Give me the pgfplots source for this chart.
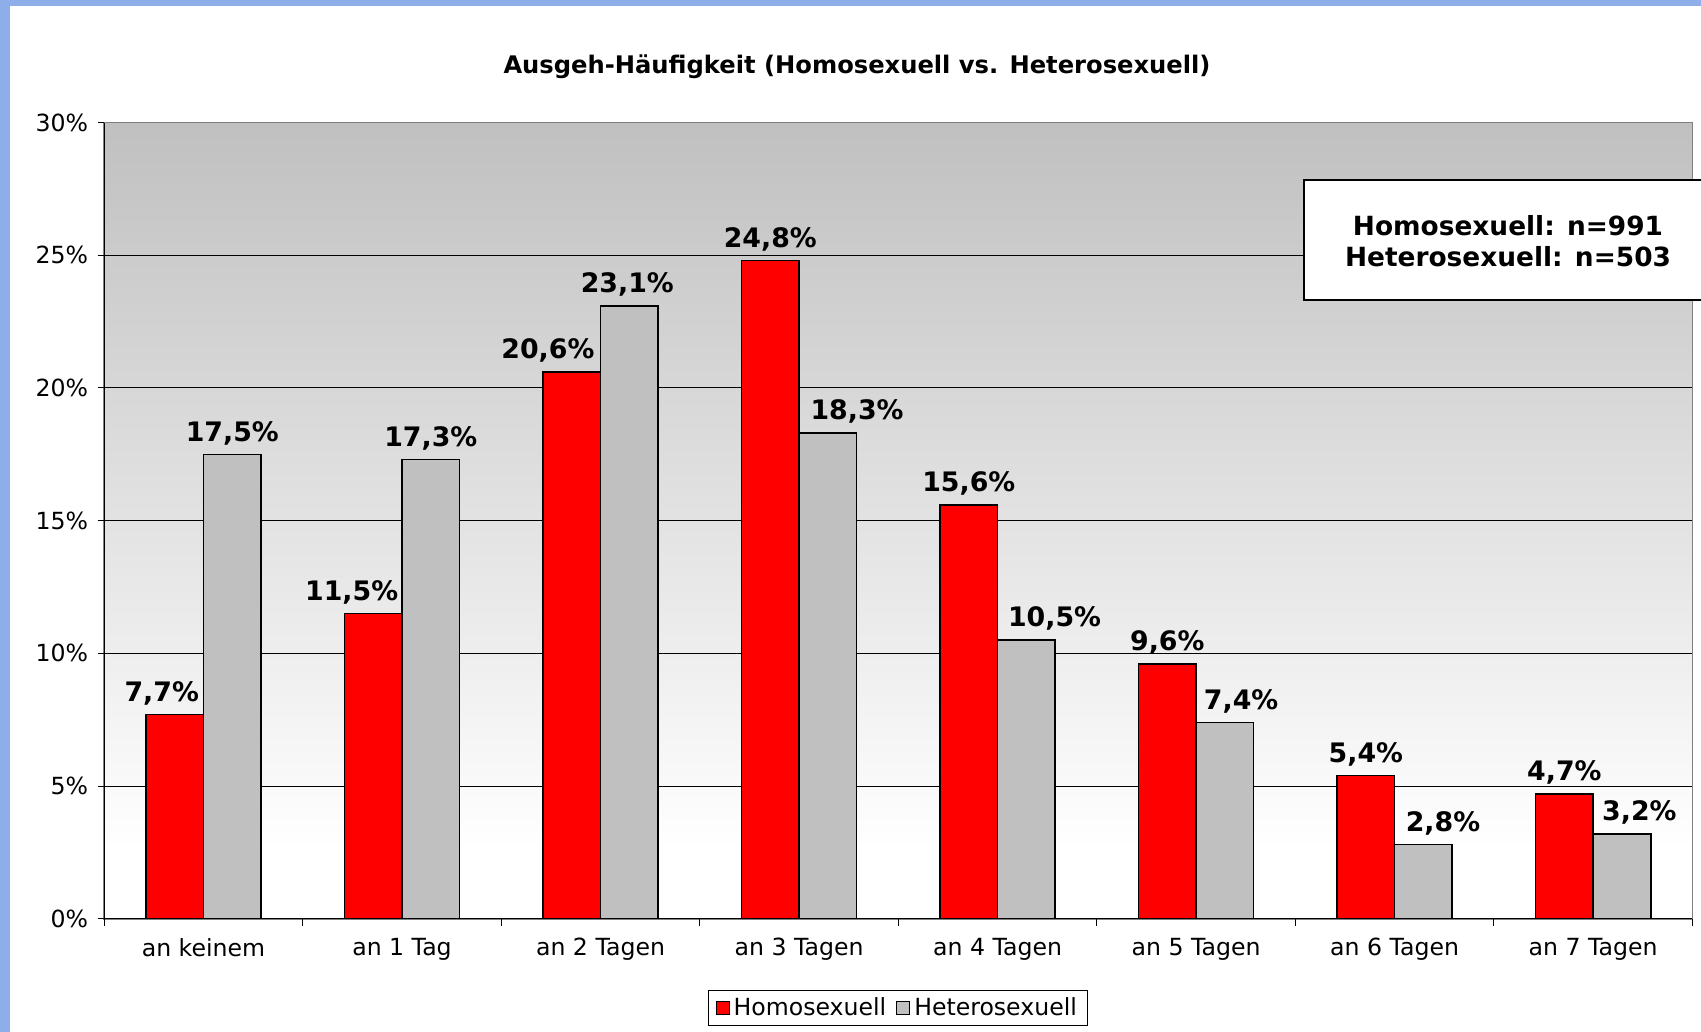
\documentclass[border=0pt]{standalone}
\usepackage{fontspec}
\setmainfont{DejaVu Sans}
\usepackage{pgfplots}
\usepackage{pgfplotstable}
\pgfplotsset{compat=1.18}
\definecolor{frameblue}{RGB}{141,174,232}
\definecolor{bgtop}{RGB}{192,192,192}
\definecolor{bargray}{RGB}{192,192,192}
\definecolor{axisgray}{RGB}{128,128,128}
\pgfdeclareverticalshading{plotbg}{100bp}{color(0bp)=(white); color(29.4bp)=(white); color(75bp)=(bgtop); color(100bp)=(bgtop)}
\pgfplotsset{sqlegend/.style={legend image code/.code={\draw[##1, draw=black, line width=0.6pt] (0pt,-3.2pt) rectangle (6.4pt,3.2pt);}}}
\pgfplotstableread{
x homo dxh hetero dxg
0 7.7  -6.5  17.5 0
1 11.5 -10.8 17.3 0
2 20.6 -11.9 23.1 -1
3 24.8 0     18.3 14.6
4 15.6 0     10.5 14.1
5 9.6  0     7.4  8.1
6 5.4  0     2.8  9.8
7 4.7  0     3.2  8.7
}\datatab
\begin{document}
\begin{tikzpicture}
\clip (0,0) rectangle (850.5pt,516pt);
\fill[frameblue] (0,0) rectangle (850.5pt,516pt);
\fill[white] (5pt,0) rectangle (850.5pt,513pt);
\begin{axis}[
  at={(52.1pt,56.6pt)}, anchor=south west,
  scale only axis, width=794.1pt, height=398.1pt,
  ybar=0pt, bar width=0.29,
  xmin=-0.5, xmax=7.5, ymin=0, ymax=30,
  xtick={0,...,7},
  xticklabels={an keinem, an 1 Tag, an 2 Tagen, an 3 Tagen, an 4 Tagen, an 5 Tagen, an 6 Tagen, an 7 Tagen},
  minor xtick={-0.5,0.5,...,7.5},
  ytick={0,5,...,25},
  extra y ticks={30},
  extra y tick style={grid=none},
  ymajorgrids,
  grid style={black, line width=0.5pt},
  yticklabel={\pgfmathprintnumber[fixed,precision=0]{\tick}\%},
  /pgf/number format/assume math mode=true,
  axis background/.style={shading=plotbg, draw=axisgray, line width=0.8pt},
  axis x line*=bottom, axis y line*=left,
  axis line style={-, black, line width=0.6pt},
  tick align=outside,
  major tick length=3.3pt, minor tick length=3.5pt,
  tick style={black, line width=0.5pt},
  major x tick style={draw=none},
  tick label style={font=\fontsize{11.8}{14}\selectfont},
  xticklabel style={yshift=-3pt},
  yticklabel style={xshift=-1.2pt},
  nodes near coords={\pgfmathprintnumber[fixed,fixed zerofill,precision=1,use comma]{\pgfplotspointmeta}\%},
  every node near coord/.append style={font=\bfseries\fontsize{13.4}{15}\selectfont, black, yshift=1pt, xshift=\dx pt},
  legend style={at={(0.5,-0.112)}, anchor=center, legend columns=2, draw=black, line width=0.5pt,
    font=\fontsize{11.8}{14}\selectfont, inner ysep=1.5pt, inner xsep=3.5pt,
    /tikz/every even column/.append style={column sep=3pt}},
]
\addplot[sqlegend, fill=red, draw=black, line width=0.8pt,
  visualization depends on={\thisrow{dxh}\as\dx}] table[x=x, y=homo] {\datatab};
\addplot[sqlegend, fill=bargray, draw=black, line width=0.8pt,
  visualization depends on={\thisrow{dxg}\as\dx}] table[x=x, y=hetero] {\datatab};
\legend{Homosexuell, Heterosexuell}
\end{axis}
\node[font=\bfseries\fontsize{12.1}{14}\selectfont] at (428.5pt,482.5pt) {Ausgeh-Häufigkeit (Homosexuell vs. Heterosexuell)};
\draw[black, line width=1pt, fill=white] (652pt,365.8pt) rectangle (860pt,426pt);
\node[align=center, font=\bfseries\fontsize{13.2}{15.7}\selectfont] at (754pt,395.4pt) {Homosexuell: n=991\\Heterosexuell: n=503};
\end{tikzpicture}
\end{document}
